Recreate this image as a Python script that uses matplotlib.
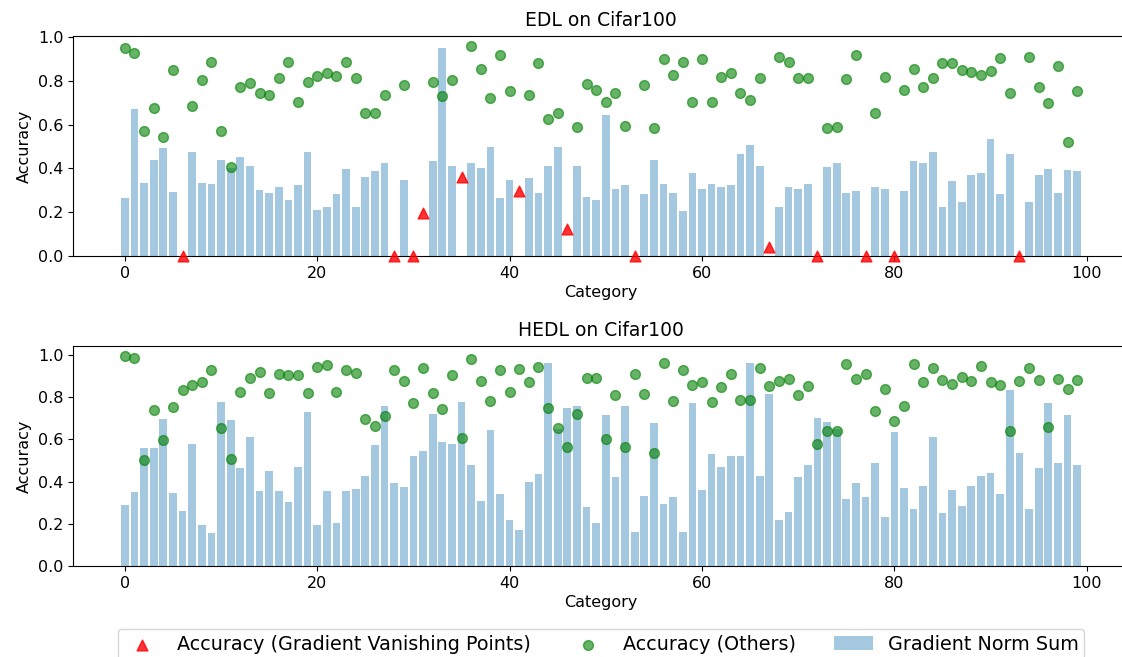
import matplotlib
matplotlib.use("Agg")
import matplotlib.pyplot as plt
import numpy as np

categories = np.arange(100)

# EDL panel
edl_grad = [
    0.265, 0.673, 0.333, 0.44, 0.494, 0.292, 0.0, 0.476, 0.333, 0.329,
    0.44, 0.40, 0.45, 0.41, 0.30, 0.29, 0.313, 0.254, 0.324, 0.476,
    0.21, 0.222, 0.281, 0.398, 0.222, 0.359, 0.387, 0.424, 0.0, 0.349,
    0.0, 0.0, 0.433, 0.948, 0.413, 0.0, 0.424, 0.402, 0.497, 0.265,
    0.349, 0.0, 0.355, 0.286, 0.41, 0.497, 0.0, 0.413, 0.27, 0.255,
    0.642, 0.307, 0.324, 0.0, 0.281, 0.44, 0.329, 0.286, 0.206, 0.381,
    0.307, 0.329, 0.313, 0.324, 0.466, 0.509, 0.413, 0.0, 0.226, 0.313,
    0.307, 0.329, 0.0, 0.408, 0.424, 0.286, 0.297, 0.0, 0.313, 0.307,
    0.0, 0.297, 0.433, 0.424, 0.476, 0.222, 0.344, 0.245, 0.37, 0.381,
    0.535, 0.281, 0.466, 0.0, 0.245, 0.37, 0.398, 0.29, 0.391, 0.387,
]
edl_acc = [
    0.948, 0.927, 0.570, 0.676, 0.544, 0.850, 0.0, 0.687, 0.803, 0.888,
    0.570, 0.407, 0.771, 0.792, 0.746, 0.734, 0.813, 0.884, 0.703, 0.794,
    0.824, 0.836, 0.824, 0.888, 0.813, 0.654, 0.654, 0.734, 0.0, 0.781,
    0.0, 0.197, 0.794, 0.729, 0.803, 0.36, 0.957, 0.855, 0.723, 0.919,
    0.755, 0.298, 0.734, 0.882, 0.628, 0.654, 0.122, 0.590, 0.787, 0.76,
    0.703, 0.746, 0.596, 0.0, 0.781, 0.586, 0.898, 0.829, 0.888, 0.703,
    0.898, 0.703, 0.818, 0.835, 0.746, 0.713, 0.813, 0.043, 0.908, 0.888,
    0.813, 0.813, 0.0, 0.586, 0.590, 0.807, 0.92, 0.0, 0.654, 0.818,
    0.0, 0.76, 0.856, 0.771, 0.813, 0.882, 0.882, 0.85, 0.841, 0.829,
    0.846, 0.904, 0.746, 0.0, 0.908, 0.771, 0.697, 0.867, 0.521, 0.755,
]
edl_vanishing = [6, 28, 30, 31, 35, 41, 46, 53, 67, 72, 77, 80, 93]

# HEDL panel
hedl_grad = [
    0.289, 0.349, 0.557, 0.557, 0.695, 0.344, 0.26, 0.579, 0.195, 0.157,
    0.778, 0.69, 0.465, 0.613, 0.354, 0.452, 0.354, 0.303, 0.47, 0.729,
    0.195, 0.354, 0.205, 0.354, 0.365, 0.427, 0.575, 0.76, 0.392, 0.376,
    0.519, 0.546, 0.722, 0.59, 0.579, 0.778, 0.479, 0.31, 0.646, 0.343,
    0.216, 0.171, 0.398, 0.437, 0.963, 0.65, 0.751, 0.756, 0.278, 0.202,
    0.717, 0.421, 0.756, 0.162, 0.333, 0.679, 0.295, 0.327, 0.162, 0.771,
    0.36, 0.53, 0.47, 0.519, 0.519, 0.963, 0.427, 0.816, 0.216, 0.256,
    0.422, 0.481, 0.7, 0.684, 0.651, 0.316, 0.392, 0.327, 0.486, 0.233,
    0.635, 0.371, 0.271, 0.381, 0.613, 0.251, 0.36, 0.283, 0.381, 0.427,
    0.443, 0.343, 0.832, 0.535, 0.271, 0.465, 0.771, 0.486, 0.717, 0.481,
]
hedl_acc = [
    0.993, 0.984, 0.50, 0.738, 0.595, 0.754, 0.835, 0.857, 0.870, 0.930,
    0.656, 0.508, 0.827, 0.890, 0.919, 0.822, 0.91, 0.905, 0.905, 0.822,
    0.941, 0.954, 0.827, 0.93, 0.916, 0.698, 0.665, 0.71, 0.93, 0.875,
    0.771, 0.937, 0.821, 0.743, 0.903, 0.606, 0.981, 0.879, 0.783, 0.93,
    0.827, 0.935, 0.871, 0.941, 0.748, 0.656, 0.563, 0.722, 0.892, 0.892,
    0.60, 0.81, 0.563, 0.91, 0.814, 0.535, 0.963, 0.783, 0.929, 0.857,
    0.87, 0.778, 0.848, 0.91, 0.787, 0.787, 0.937, 0.854, 0.876, 0.886,
    0.81, 0.854, 0.578, 0.638, 0.638, 0.959, 0.886, 0.91, 0.733, 0.841,
    0.689, 0.76, 0.959, 0.87, 0.94, 0.881, 0.863, 0.897, 0.876, 0.948,
    0.871, 0.859, 0.638, 0.876, 0.94, 0.881, 0.66, 0.886, 0.841, 0.881,
]
hedl_vanishing = []

plt.rcParams["font.size"] = 11.5
plt.rcParams["axes.titlesize"] = 13.5
plt.rcParams["axes.labelsize"] = 11.5

W, H = 1122, 657
fig = plt.figure(figsize=(W / 100, H / 100), dpi=100)


def panel(rect, grad, acc, vanishing, title):
    ax = fig.add_axes(rect)
    grad = np.asarray(grad)
    acc = np.asarray(acc)
    mask = np.zeros(len(categories), dtype=bool)
    mask[vanishing] = True

    bars = ax.bar(categories, grad, color="C0", alpha=0.4, label="Gradient Norm Sum")
    tri = ax.scatter(categories[mask], acc[mask], marker="^", s=60, color="red",
                     alpha=0.8, clip_on=False, zorder=3,
                     label="Accuracy (Gradient Vanishing Points)")
    dots = ax.scatter(categories[~mask], acc[~mask], marker="o", s=50, color="green",
                      alpha=0.6, zorder=3, label="Accuracy (Others)")
    ax.set_title(title, pad=7)
    ax.set_xlabel("Category", labelpad=3)
    ax.set_ylabel("Accuracy")
    return tri, dots, bars


x0 = 73 / W
w = (1129 - 73) / W
h = 220 / H
handles = panel([x0, (H - 256) / H, w, h], edl_grad, edl_acc, edl_vanishing, "EDL on Cifar100")
panel([x0, (H - 566) / H, w, h], hedl_grad, hedl_acc, hedl_vanishing, "HEDL on Cifar100")

fig.legend(handles, [hd.get_label() for hd in handles], loc="upper center",
           bbox_to_anchor=(601 / W, (H - 629) / H), ncol=3, fontsize=13.8,
           borderpad=0.3, borderaxespad=0)

fig.savefig("out.png", dpi=100)
